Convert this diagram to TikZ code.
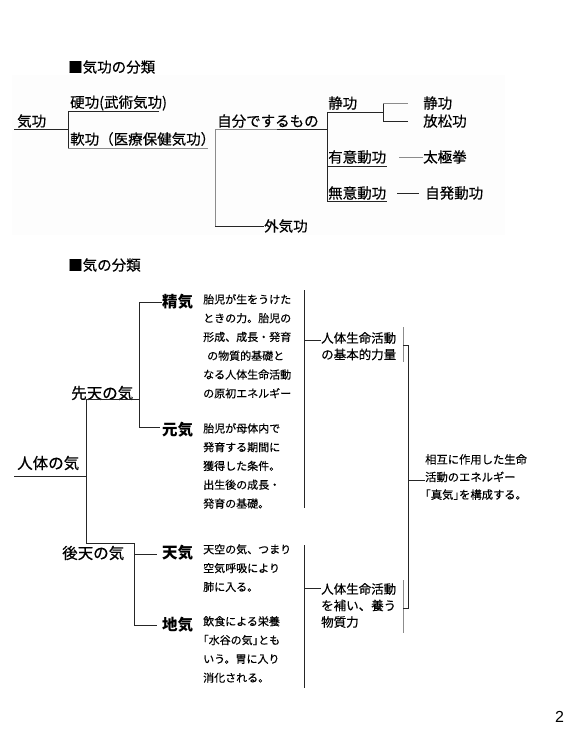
\documentclass[tikz,border=0pt]{standalone}
\usepackage{fontspec}
\setmainfont{Noto Sans CJK JP}[UprightFeatures={FakeBold=0.35}]
\setsansfont{Liberation Sans}
\usetikzlibrary{positioning}
\tikzstyle{every node}=[inner sep=0pt, anchor=west]
\tikzstyle{label}=[font=\fontsize{14.5}{16}\selectfont]
\tikzstyle{group}=[font=\fontsize{15.5}{18}\selectfont]
\tikzstyle{kind}=[font=\fontsize{15.5}{18}\selectfont\bfseries]
\tikzstyle{note}=[font=\fontsize{11}{18.8}\selectfont, align=left, anchor=north west]
\tikzstyle{sum}=[font=\fontsize{12.5}{16.5}\selectfont, align=left, anchor=north west]
\tikzstyle{branch}=[draw=black!85, line width=0.8pt]
\tikzstyle{pale}=[draw=black!45, line width=0.8pt]

\begin{document}
\begin{tikzpicture}[x=1pt,y=-1pt]
    \useasboundingbox (0,0) rectangle (585,744);
    \fill[black!0.8] (12,75) rectangle (505,235);
    % --- 気功の分類
    \node[label] (t1) at (68,67) {■気功の分類};
    \node[label] (qg) at (17,121) {気功};
    \node[label] (hard) at (70,103) {硬功(武術気功)};
    \node[label] (soft) at (70,139) {軟功（医療保健気功）};
    \node[label] (self) at (217,121) {自分でするもの};
    \node[label] (ext) at (264,226) {外気功};
    \node[label] (sei) at (328,103) {静功};
    \node[label] (yui) at (328,157) {有意動功};
    \node[label] (mui) at (328,193) {無意動功};
    \node[label] (sei2) at (423,103) {静功};
    \node[label] (fang) at (423,121) {放松功};
    \node[label] (tai) at (423,157) {太極拳};
    \node[label] (zif) at (425,193) {自発動功};
    \coordinate (q0) at (14,129);
    \coordinate (q1) at (68,129);
    \coordinate (h0) at (68,111);
    \coordinate (h1) at (159,111);
    \coordinate (s0) at (68,148);
    \coordinate (s1) at (208,148);
    \coordinate (m0) at (215,129);
    \coordinate (m1) at (277,129);
    \coordinate (m2) at (327,129);
    \coordinate (m3) at (215,226);
    \coordinate (n0) at (327,112);
    \coordinate (n1) at (383,112);
    \coordinate (n2) at (327,201);
    \coordinate (n3) at (387,201);
    \coordinate (y0) at (327,166);
    \coordinate (y1) at (387,166);
    \coordinate (k0) at (383,103);
    \coordinate (k1) at (383,121);
    \coordinate (k2) at (408,103);
    \coordinate (k3) at (408,121);
    \coordinate (d0) at (399,157);
    \coordinate (d1) at (397,193);
    \coordinate (d2) at (419,193);
    \draw[branch] (q0) -- (q1);
    \draw[branch] (h1) -- (h0) -- (s0);
    \draw[pale] (s0) -- (s1);
    \draw[pale] (m3) -- (m0) -- (m1);
    \draw[branch] (m1) -- (m2);
    \draw[branch] (m3) -- (ext.west);
    \draw[branch] (n1) -- (n0) -- (n2) -- (n3);
    \draw[branch] (y0) -- (y1);
    \draw[branch] (k3) -- (k1) -- (k0);
    \draw[pale] (k0) -- (k2);
    \draw[pale] (d0) -- (tai.west);
    \draw[branch] (d1) -- (d2);
    % --- 気の分類
    \node[label] (t2) at (68,265) {■気の分類};
    \node[group] (body) at (17,463) {人体の気};
    \node[group] (pre) at (71,393) {先天の気};
    \node[group] (post) at (62,553) {後天の気};
    \node[kind] (jing) at (162,302) {精気};
    \node[kind] (yuan) at (162,430) {元気};
    \node[kind] (tian) at (162,553) {天気};
    \node[kind] (di) at (162,625) {地気};
    \node[note] (jingt) at (203,294) {胎児が生をうけた\\ときの力。胎児の\\形成、成長・発育\\\hspace{4pt}の物質的基礎と\\なる人体生命活動\\の原初エネルギー};
    \node[note] (yuant) at (203,423) {胎児が母体内で\\発育する期間に\\獲得した条件。\\出生後の成長・\\発育の基礎。};
    \node[note] (tiant) at (203,544) {天空の気、つまり\\空気呼吸により\\肺に入る。};
    \node[note] (dit) at (203,616) {飲食による栄養\\｢水谷の気｣とも\\いう。胃に入り\\消化される。};
    \node[sum] (base) at (321,332) {人体生命活動\\の基本的力量};
    \node[sum] (feed) at (321,583) {人体生命活動\\を補い、養う\\物質力};
    \node[note, font=\fontsize{11.3}{17.6}\selectfont] (true) at (425,454) {相互に作用した生命\\活動のエネルギー\\｢真気｣を構成する。};
    \coordinate (b0) at (14,476);
    \coordinate (b1) at (86,476);
    \coordinate (e0) at (86,399);
    \coordinate (e1) at (139,399);
    \coordinate (e2) at (86,543);
    \coordinate (e3) at (134,543);
    \coordinate (j0) at (139,302);
    \coordinate (j1) at (139,427);
    \coordinate (j2) at (160,427);
    \coordinate (l0) at (134,554);
    \coordinate (l1) at (134,625);
    \coordinate (l2) at (157,554);
    \coordinate (l3) at (157,625);
    \draw[branch] (b0) -- (b1);
    \draw[branch] (e1) -- (e0) -- (e2) -- (e3) -- (l1) -- (l3);
    \draw[branch] (l0) -- (l2);
    \draw[branch] (jing.west) -- (j0) -- (j1) -- (j2);
    % --- 右側の括り
    \coordinate (u0) at (304,290);
    \coordinate (u1) at (304,508);
    \coordinate (u2) at (304,340);
    \coordinate (w0) at (304,545);
    \coordinate (w1) at (304,688);
    \coordinate (w2) at (304,588);
    \coordinate (v0) at (403,327);
    \coordinate (v1) at (403,362);
    \coordinate (v2) at (403,345);
    \coordinate (v3) at (408,345);
    \coordinate (v4) at (408,480);
    \coordinate (v5) at (408,608);
    \coordinate (v6) at (403,608);
    \coordinate (v7) at (403,580);
    \coordinate (v8) at (403,633);
    \draw[branch] (u0) -- (u1);
    \draw[branch] (u2) -- (base.west |- u2);
    \draw[branch] (w0) -- (w1);
    \draw[branch] (w2) -- (feed.west |- w2);
    \draw[pale] (v0) -- (v1);
    \draw[pale] (v7) -- (v8);
    \draw[branch] (v2) -- (v3) -- (v5) -- (v6);
    \draw[branch] (v4) -- (true.west |- v4);
    \node[font=\sffamily\fontsize{16}{18}\selectfont] (pg) at (555,717) {2};
\end{tikzpicture}
\end{document}
